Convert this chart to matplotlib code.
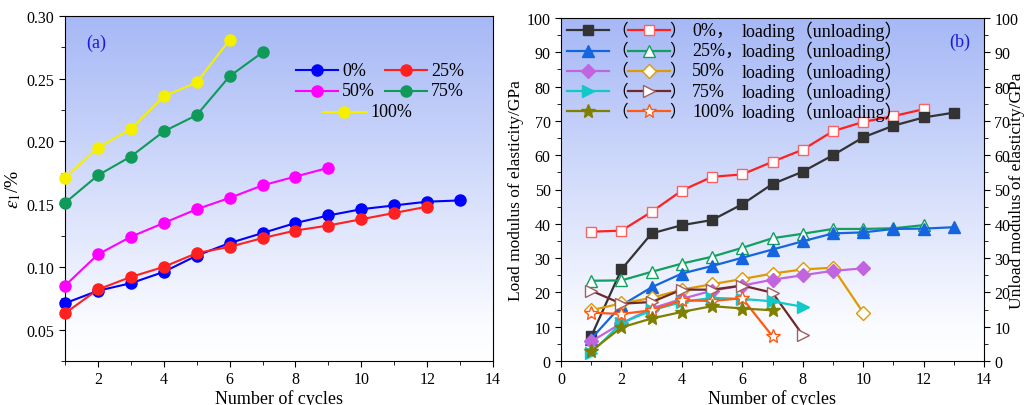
import matplotlib.pyplot as plt
import numpy as np
from matplotlib.colors import LinearSegmentedColormap
from matplotlib.ticker import MultipleLocator

plt.rcParams['font.family'] = ['Liberation Serif', 'Noto Sans CJK SC']
plt.rcParams['mathtext.fontset'] = 'stix'

# ---- panel (a): axial strain vs cycles
cycles_a = list(range(1, 14))
strain_labels = ["0%", "25%", "50%", "75%", "100%"]
strain_0 = [0.071, 0.081, 0.087, 0.096, 0.109, 0.119, 0.127, 0.135, 0.141, 0.146, 0.149, 0.152, 0.153]
strain_25 = [0.063, 0.082, 0.092, 0.100, 0.111, 0.116, 0.123, 0.129, 0.133, 0.138, 0.143, 0.148]
strain_50 = [0.085, 0.110, 0.124, 0.135, 0.146, 0.155, 0.165, 0.172, 0.179]
strain_75 = [0.151, 0.173, 0.188, 0.208, 0.221, 0.252, 0.271]
strain_100 = [0.171, 0.195, 0.210, 0.236, 0.247, 0.281]
strain_series = [strain_0, strain_25, strain_50, strain_75, strain_100]
strain_colors = ["#0000ff", "#ff2020", "#ff00ff", "#109a5a", "#f5f000"]

# ---- panel (b): modulus vs cycles, loading / unloading
mod_labels = ["0%，", "25%，", "50%", "75%", "100%"]
load_0 = [7.2, 26.7, 37.2, 39.6, 41.1, 45.7, 51.6, 55.2, 60.0, 65.2, 68.6, 71.0, 72.4]
unload_0 = [37.7, 38.0, 43.5, 49.7, 53.7, 54.4, 58.1, 61.6, 67.0, 69.7, 71.4, 73.4]
load_25 = [6.5, 16.2, 21.5, 25.5, 27.7, 30.1, 32.5, 34.9, 37.2, 37.5, 38.5, 38.6, 39.0]
unload_25 = [23.4, 23.5, 26.0, 28.4, 30.4, 33.0, 35.8, 37.1, 38.5, 38.5, 38.7, 39.6]
load_50 = [5.7, 11.0, 15.3, 18.1, 20.5, 22.0, 23.7, 25.0, 26.3, 27.0]
unload_50 = [14.8, 16.8, 18.4, 20.8, 22.4, 23.9, 25.5, 26.7, 27.2, 14.1]
load_75 = [2.4, 11.0, 14.8, 17.2, 18.4, 18.1, 17.4, 15.8]
unload_75 = [20.5, 16.7, 17.2, 20.8, 20.8, 22.0, 19.9, 7.6]
load_100 = [2.9, 9.8, 12.4, 14.3, 16.0, 15.3, 14.8]
unload_100 = [14.1, 13.7, 14.8, 17.7, 17.5, 18.3, 7.2]
load_series = [load_0, load_25, load_50, load_75, load_100]
unload_series = [unload_0, unload_25, unload_50, unload_75, unload_100]
load_colors = ["#333333", "#1565e0", "#c064e0", "#12c8c8", "#7f7f00"]
unload_colors = ["#ff2020", "#10a060", "#e09a00", "#702828", "#ff5a14"]
unload_edge = ["#ff6060", "#10a060", "#e09a00", "#a06060", "#ff5a14"]
markers = ["s", "^", "D", ">", "*"]
msizes = [7, 8, 7, 8, 10]


def add_gradient(ax):
    grad = np.linspace(0, 1, 256).reshape(-1, 1)
    cmap = LinearSegmentedColormap.from_list(
        "bg", [(0.0, "#ffffff"), (0.1, "#fbfcff"), (1.0, "#a6b8f6")])
    ax.imshow(grad, extent=[0, 1, 0, 1], transform=ax.transAxes,
              aspect="auto", cmap=cmap, origin="lower", zorder=0)


fig = plt.figure(figsize=(10.25, 4.06), dpi=100)

# ================= (a)
ax1 = fig.add_axes([65 / 1025, 1 - 362 / 406, 428 / 1025, 345 / 406])
add_gradient(ax1)
for ys, c in zip(strain_series, strain_colors):
    ax1.plot(cycles_a[:len(ys)], ys, "-o", color=c, lw=1.5, ms=8,
             mfc=c, mec=c, zorder=3, clip_on=False)
ax1.set_xlim(1, 14)
ax1.set_ylim(0.025, 0.30)
ax1.xaxis.set_major_locator(MultipleLocator(2))
ax1.xaxis.set_minor_locator(MultipleLocator(1))
ax1.yaxis.set_major_locator(MultipleLocator(0.05))
ax1.yaxis.set_minor_locator(MultipleLocator(0.025))
ax1.set_xticks([2, 4, 6, 8, 10, 12, 14])
ax1.tick_params(which="both", direction="out", top=False, right=False, labelsize=11.5)
ax1.tick_params(which="major", length=4)
ax1.tick_params(which="minor", length=3)
ax1.yaxis.set_major_formatter(plt.FuncFormatter(lambda v, p: f"{v:.2f}"))
ax1.set_xlabel("Number of cycles", fontsize=13, labelpad=1)
ax1.set_ylabel(r"$\varepsilon_1$/%", fontsize=14, labelpad=3)
ax1.text(0.05, 0.925, "(a)", transform=ax1.transAxes, color="#1a1ae0",
         fontsize=13, va="center")

# manual legend (a)
leg_a = [((0.540, 0.638), 0.843), ((0.748, 0.846), 0.843),
         ((0.540, 0.638), 0.783), ((0.748, 0.846), 0.783),
         ((0.603, 0.703), 0.722)]
for (xs, y), c, lab in zip(leg_a, strain_colors, strain_labels):
    ax1.plot(xs, [y, y], color=c, lw=1.5, transform=ax1.transAxes, zorder=4)
    ax1.plot([(xs[0] + xs[1]) / 2], [y], "o", color=c, ms=8,
             transform=ax1.transAxes, zorder=5)
    ax1.text(xs[1] + 0.01, y, lab, transform=ax1.transAxes, fontsize=13,
             va="center", ha="left")

# ================= (b)
ax2 = fig.add_axes([561 / 1025, 1 - 362 / 406, 423 / 1025, 343 / 406])
add_gradient(ax2)
for i in range(5):
    lx = list(range(1, len(load_series[i]) + 1))
    ux = list(range(1, len(unload_series[i]) + 1))
    ax2.plot(ux, unload_series[i], "-", marker=markers[i], color=unload_colors[i],
             lw=1.6, ms=msizes[i], mfc="white", mec=unload_edge[i], mew=1.0, zorder=3)
    ax2.plot(lx, load_series[i], "-", marker=markers[i], color=load_colors[i],
             lw=1.6, ms=msizes[i], mfc=load_colors[i], mec=load_colors[i], zorder=3)
ax2.set_xlim(0, 14)
ax2.set_ylim(0, 100)
ax2.xaxis.set_major_locator(MultipleLocator(2))
ax2.xaxis.set_minor_locator(MultipleLocator(1))
ax2.yaxis.set_major_locator(MultipleLocator(10))
ax2.yaxis.set_minor_locator(MultipleLocator(5))
ax2.tick_params(which="both", direction="out", top=False, right=True,
                labelright=True, labelsize=11.5)
ax2.tick_params(which="major", length=4)
ax2.tick_params(which="minor", length=3)
ax2.set_xlabel("Number of cycles", fontsize=13, labelpad=1)
ax2.set_ylabel("Load modulus of elasticity/GPa", fontsize=12.5, labelpad=2)
ax2.text(1.077, 0.5, "Unload modulus of elasticity/GPa", transform=ax2.transAxes,
         rotation=90, fontsize=12.5, va="center", ha="center")
ax2.text(0.943, 0.931, "(b)", transform=ax2.transAxes, color="#1a1ae0",
         fontsize=13, va="center", ha="center")

# manual legend (b)
rows_y = [0.965, 0.905, 0.846, 0.787, 0.728]
for i, y in enumerate(rows_y):
    ax2.plot([0.014, 0.114], [y, y], color=load_colors[i], lw=1.6,
             transform=ax2.transAxes, zorder=4)
    ax2.plot([0.064], [y], marker=markers[i], color=load_colors[i], ms=msizes[i],
             transform=ax2.transAxes, zorder=5)
    ax2.text(0.139, y, "（", transform=ax2.transAxes, fontsize=12,
             va="center", ha="center")
    ax2.plot([0.158, 0.258], [y, y], color=unload_colors[i], lw=1.6,
             transform=ax2.transAxes, zorder=4)
    ax2.plot([0.208], [y], marker=markers[i], color=unload_colors[i], ms=msizes[i],
             mfc="white", mec=unload_edge[i], transform=ax2.transAxes, zorder=5)
    ax2.text(0.276, y, "）", transform=ax2.transAxes, fontsize=12,
             va="center", ha="center")
    ax2.text(0.310, y, mod_labels[i], transform=ax2.transAxes, fontsize=13,
             va="center", ha="left")
    ax2.text(0.428, y, "loading（unloading）", transform=ax2.transAxes,
             fontsize=13, va="center", ha="left")

fig.savefig("out.png", dpi=100)
